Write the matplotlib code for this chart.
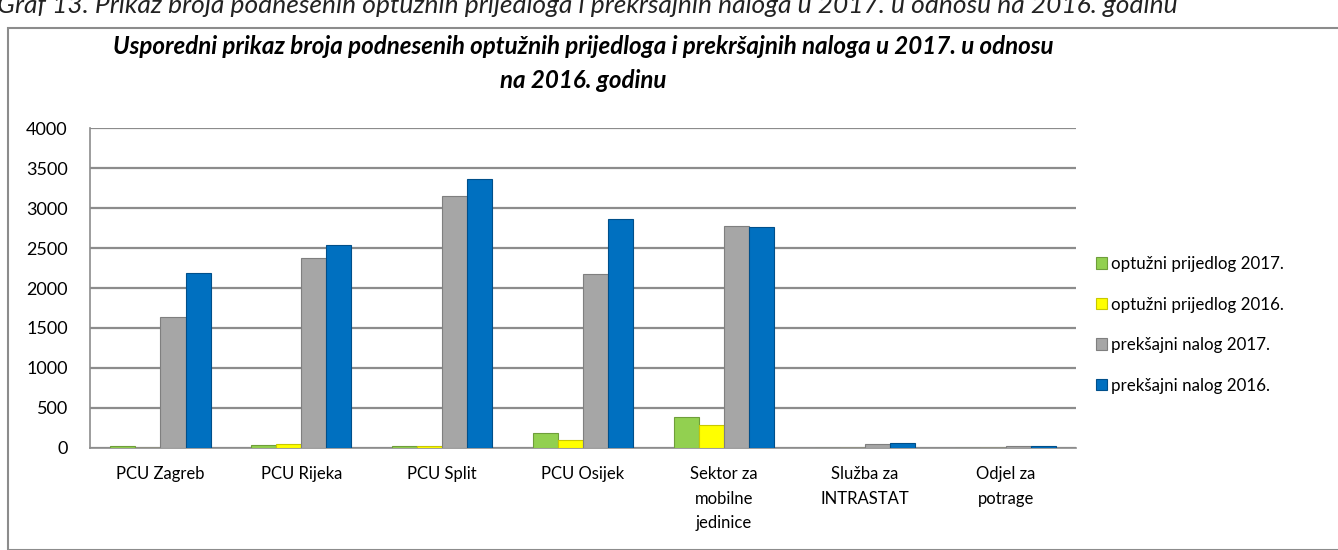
import matplotlib
matplotlib.use("Agg")
import matplotlib.pyplot as plt
import matplotlib.patches as mpatches
import numpy as np

plt.rcParams['font.family'] = ['Lato', 'DejaVu Sans']

categories = ["PCU Zagreb", "PCU Rijeka", "PCU Split", "PCU Osijek",
              "Sektor za\nmobilne\njedinice", "Služba za\nINTRASTAT", "Odjel za\npotrage"]
series_names = ["optužni prijedlog 2017.", "optužni prijedlog 2016.",
                "prekšajni nalog 2017.", "prekšajni nalog 2016."]
optuzni_2017 = [25, 40, 20, 185, 390, 0, 0]
optuzni_2016 = [5, 45, 25, 100, 290, 0, 0]
prekrsajni_2017 = [1640, 2380, 3150, 2180, 2780, 50, 20]
prekrsajni_2016 = [2190, 2540, 3360, 2860, 2760, 60, 30]
yticks = [0, 500, 1000, 1500, 2000, 2500, 3000, 3500, 4000]

colors = ["#92D050", "#FFFF00", "#A6A6A6", "#0070C0"]
edges = ["#6E9E3A", "#C8C800", "#7F7F7F", "#004F8A"]

fig = plt.figure(figsize=(13.38, 5.5), dpi=100)
ax = fig.add_axes([90 / 1338, 1 - 448 / 550, (1076 - 90) / 1338, 320 / 550])

# outer chart frame
fig.patches.append(mpatches.Rectangle((8 / 1338, 0), 1.0, 1 - 28 / 550, transform=fig.transFigure,
                                      fill=False, edgecolor="#8C8C8C", lw=1.5))

# caption above the frame, cut off at the top like in the document
fig.text(-0.002, 1 - 13 / 550,
         "Graf 13. Prikaz broja podnesenih optužnih prijedloga i prekršajnih naloga u 2017. u odnosu na 2016. godinu",
         fontsize=19, style="italic", ha="left", va="baseline", color="#222222")

x = np.arange(len(categories))
w = 0.178
data = [optuzni_2017, optuzni_2016, prekrsajni_2017, prekrsajni_2016]
offsets = [-2, -1, 0, 1]
for vals, off, c, e, name in zip(data, offsets, colors, edges, series_names):
    ax.bar(x + off * w, vals, width=w, align="edge", color=c, edgecolor=e,
           linewidth=0.8, label=name, zorder=3)

ax.set_xlim(-0.5, len(categories) - 0.5)
ax.set_ylim(0, 4000)
ax.set_yticks(yticks)
ax.set_xticks(x)
ax.set_xticklabels(categories, fontsize=12, linespacing=1.65, va="top")
ax.tick_params(axis="y", labelsize=13, length=0, pad=16)
ax.tick_params(axis="x", length=0, pad=13)
ax.grid(axis="y", color="#8C8C8C", lw=1.6, zorder=0)
for s in ["top", "right"]:
    ax.spines[s].set_visible(False)
ax.spines["left"].set_color("#8C8C8C")
ax.spines["bottom"].set_color("#8C8C8C")
ax.spines["left"].set_linewidth(1.2)
ax.spines["bottom"].set_linewidth(1.2)

ax.set_title("Usporedni prikaz broja podnesenih optužnih prijedloga i prekršajnih naloga u 2017. u odnosu\nna 2016. godinu",
             fontsize=17.4, fontweight="bold", style="italic", linespacing=1.55, pad=29)

leg = ax.legend(loc="center left", bbox_to_anchor=(1.005, 0.385), frameon=False,
                fontsize=12.2, handlelength=0.65, handleheight=0.65, handletextpad=0.2,
                labelspacing=1.45)

fig.savefig("out.png", dpi=100)
